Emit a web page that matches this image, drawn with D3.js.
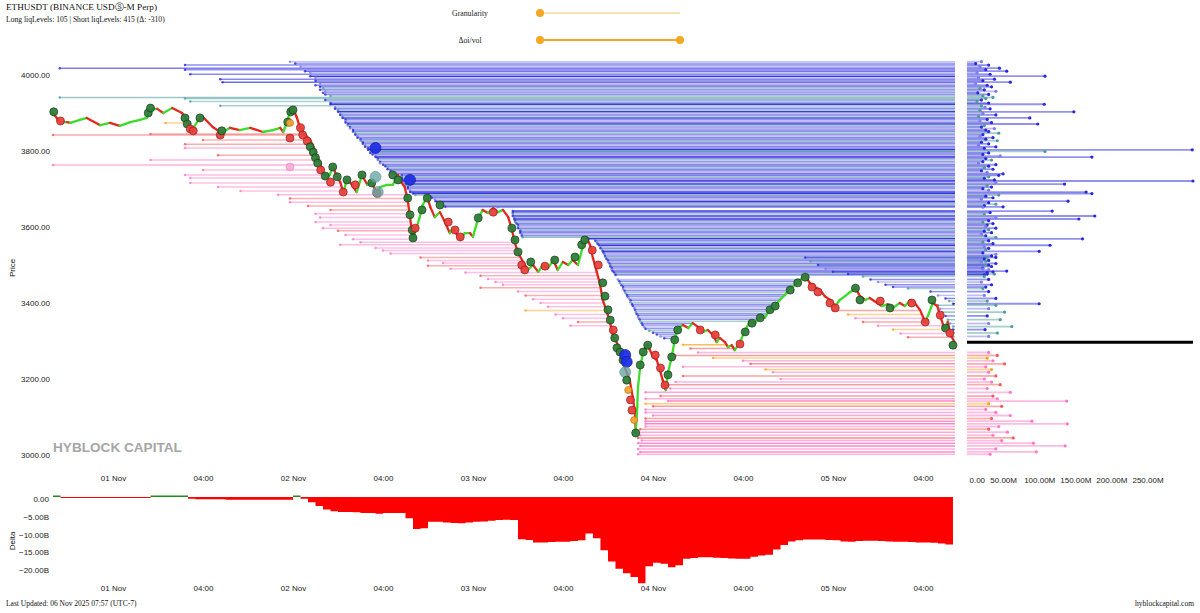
<!DOCTYPE html>
<html>
<head>
<meta charset="utf-8">
<script src="https://cdn.jsdelivr.net/npm/d3@7"></script>
<style>
body { margin: 0; background: #fff; }
svg text { font-family: "Liberation Sans", Arial, sans-serif; }
.serif { font-family: "Liberation Serif", "Times New Roman", serif; }
</style>
</head>
<body>
<svg id="chart" width="1200" height="613"></svg>
<script>
// hours counted from 31 Oct 16:00 UTC
var t0 = Date.UTC(2025, 9, 31, 16, 0);
var HOUR = 3600e3;

// price path: [hour, price]
var pricePath = [
  [0,3900],[0.9,3876],[1.9,3876],[2.3,3874],[3.6,3882],[4.5,3887],[6.3,3868],[7.6,3874],[8.9,3866],[10.3,3876],
  [11.6,3882],[12.5,3887],[12.9,3908],[13.9,3911],[14.7,3900],[15.9,3913],[17.2,3900],[17.6,3889],[18.3,3863],[18.5,3855],
  [19.6,3887],[20,3889],[21.3,3863],[22.5,3847],[23.6,3861],[24.9,3855],[26.3,3861],[28,3850],[29.3,3855],[30.3,3861],
  [30.7,3850],[31.2,3876],[31.6,3903],[32,3911],[32.5,3889],[32.9,3863],[33.3,3850],[34.3,3829],[34.7,3811],[35.2,3784],
  [35.6,3768],[36,3742],[36.5,3732],[36.9,3737],[37.3,3758],[37.9,3732],[38.3,3718],[38.7,3692],[39.2,3724],[39.6,3718],
  [40.5,3692],[41.2,3737],[41.9,3711],[42.5,3716],[43.2,3689],[43.6,3705],[44.5,3711],[45.3,3711],[46,3737],[46.5,3716],
  [46.9,3705],[47.3,3671],[47.6,3626],[47.9,3584],[48,3566],[48.5,3600],[48.9,3626],[49.3,3658],[49.9,3679],[50.3,3653],
  [50.9,3626],[51.6,3639],[52.3,3611],[52.9,3584],[53.3,3597],[54.3,3566],[54.9,3584],[55.6,3584],[56,3574],[56.7,3624],
  [57.3,3645],[58,3637],[58.7,3650],[59.3,3639],[60,3645],[60.7,3626],[61.2,3592],[61.6,3558],[62,3532],[62.7,3508],
  [63.3,3487],[64,3500],[64.7,3482],[65.3,3500],[66,3492],[66.7,3513],[67.3,3487],[68,3508],[68.7,3500],[69.3,3513],
  [70,3500],[70.7,3553],[71.2,3571],[71.6,3553],[72,3518],[72.5,3482],[72.9,3453],[73.3,3408],[73.9,3374],[74.3,3347],
  [74.7,3311],[75.2,3295],[75.6,3271],[76,3242],[76.5,3218],[76.9,3197],[77.3,3153],[77.6,3111],[77.7,3058],[77.9,3126],
  [78,3179],[78.3,3232],[78.7,3271],[79.2,3289],[79.6,3276],[80,3258],[80.5,3250],[80.9,3224],[81.3,3197],[81.7,3171],
  [82,3216],[82.5,3258],[82.9,3303],[83.3,3334],[84,3342],[84.7,3334],[85.3,3347],[86,3337],[86.7,3324],[87.3,3329],
  [88,3316],[88.5,3297],[88.9,3308],[89.6,3297],[90,3284],[90.5,3289],[90.9,3276],[91.6,3297],[92.3,3329],[92.9,3350],
  [93.6,3347],[94.3,3363],[94.9,3361],[95.6,3382],[96.3,3392],[96.9,3408],[97.6,3421],[98.3,3439],[98.9,3447],[99.6,3461],
  [100.3,3471],[100.9,3453],[101.6,3442],[102.3,3434],[102.9,3418],[103.6,3408],[104.3,3392],[104.9,3408],[105.6,3418],[106.3,3429],
  [107,3439],[107.6,3418],[108.3,3408],[108.9,3413],[109.9,3400],[110.5,3392],[111.3,3397],[112,3387],[112.9,3400],[113.6,3392],
  [114.3,3408],[114.9,3400],[115.6,3382],[116.3,3350],[116.7,3368],[117.3,3400],[117.9,3392],[118.3,3366],[118.9,3329],[119.3,3350],
  [119.7,3316],[120.2,3297]
];

// cumulative delta, billions, one value per hour
var deltaB = [0.4,-0.3,-0.3,-0.3,-0.3,-0.3,-0.3,-0.3,-0.3,-0.3,-0.3,-0.3,-0.3,0.4,0.4,0.4,0.4,0.4,-0.5,-0.6,
  -0.6,-0.6,-0.6,-0.8,-0.8,-0.8,-0.8,-0.8,-0.8,-0.8,-0.8,-0.8,0.4,-0.5,-1.5,-2.5,-3.5,-4.0,-4.2,-4.2,
  -4.3,-4.5,-4.5,-4.7,-4.5,-4.5,-4.5,-6.0,-9.0,-8.8,-7.0,-7.0,-7.2,-7.3,-7.4,-7.2,-7.0,-6.9,-6.7,-6.5,
  -6.4,-6.5,-11.9,-12.1,-12.8,-12.8,-12.7,-12.6,-12.6,-12.4,-12.2,-10.3,-11.6,-15.0,-18.2,-20.2,-21.5,-22.5,-24.3,-19.5,
  -18.5,-18.8,-19.8,-19.2,-17.4,-17.2,-17.0,-17.0,-17.1,-17.2,-17.3,-17.4,-17.4,-16.8,-16.5,-16.3,-14.8,-13.5,-12.5,-12.2,
  -12.0,-12.0,-12.0,-12.1,-12.2,-12.5,-12.6,-12.4,-12.3,-12.3,-12.4,-12.5,-12.6,-12.6,-12.7,-12.8,-12.8,-12.9,-13.1,-13.4,-15.1];

var tickHours = [8,20,32,44,56,68,80,92,104,116];
var tickLabels = ["01 Nov","04:00","02 Nov","04:00","03 Nov","04:00","04 Nov","04:00","05 Nov","04:00"];
var priceTicks = [3000,3200,3400,3600,3800,4000];
var deltaTicks = [0,-5,-10,-15,-20];
var sizeTicks = [0,50,100,150,200,250];

// short liq levels: [price, start hour, group, size in M]  groups 0 blue, 1 teal, 2 lavender
var shortLevels = [
  [4035,31.6,2,20],[4030,32.3,0,12],[4026,17.6,0,30],[4022,33,2,18],[4018,0.9,0,45],[4014,17.6,0,26],
  [4010,33.6,0,55],[4006,34.3,2,14],[4002,18.3,0,32],[3997,34.3,0,108],[3993,35,2,16],[3989,22.3,0,38],
  [3985,35,0,22],[3981,22.6,0,60],[3977,35.6,2,12],[3973,35,0,28],[3969,35.6,0,34],[3965,36,1,18],
  [3961,35.6,0,24],[3957,36.3,2,40],[3953,36,0,15],[3949,36.3,0,30],[3945,37,1,22],[3941,0.9,1,36],
  [3938,17.6,1,26],[3934,36.3,0,20],[3930,18.3,1,14],[3926,37,0,30],[3923,37,0,107],[3919,22.3,1,20],
  [3915,37.6,2,25],[3911,37.6,0,32],[3907,38,1,18],[3903,38,0,148],[3899,38.3,2,22],[3895,38.3,0,40],
  [3891,38.6,1,16],[3887,38.6,0,87],[3883,39,0,28],[3879,39,2,18],[3875,39,0,34],[3871,39.3,0,98],
  [3867,39.3,1,24],[3863,39.6,0,20],[3859,39.6,2,38],[3855,40,0,26],[3851,40,0,30],[3847,40.3,1,44],
  [3843,40.3,0,22],[3839,40.6,2,18],[3835,40.6,0,36],[3831,41,0,26],[3827,41,1,42],[3823,41.3,0,20],
  [3819,41.3,0,30],[3815,41.6,2,16],[3811,41.6,0,40],[3807,42,0,24],[3803,42,0,312],[3799,42.3,1,108],
  [3795,42.3,0,30],[3791,42.6,0,22],[3787,43,2,46],[3784,43,0,173],[3780,43.3,0,26],[3776,43.3,1,34],
  [3772,43.6,0,22],[3768,43.6,2,16],[3764,44,0,40],[3760,44.3,0,30],[3756,44.6,1,24],[3752,44.6,0,36],
  [3748,45,0,20],[3744,45,2,28],[3740,45.3,0,50],[3736,46.5,0,44],[3732,46.5,1,30],[3728,46.5,0,24],
  [3724,46.6,0,38],[3721,46.6,0,313],[3717,46.7,2,40],[3713,47,0,135],[3709,47,1,28],[3705,47.3,0,34],
  [3701,47.3,0,22],[3697,47.6,2,30],[3692,47.6,0,165],[3688,48,0,173],[3684,48.3,1,44],[3681,50.3,0,26],
  [3677,50.5,0,36],[3673,50.9,2,20],[3668,51,0,140],[3664,51.3,0,30],[3660,51.6,1,40],[3656,52,0,24],
  [3653,52.3,0,50],[3652,59.3,2,22],[3642,61.3,0,118],[3638,61.3,0,32],[3634,61.3,1,24],[3629,61.3,0,177],
  [3625,61.5,2,40],[3621,61.5,0,155],[3617,61.6,0,30],[3613,61.6,1,22],[3609,61.8,0,36],[3605,62,0,28],
  [3601,62,2,26],[3597,62,0,40],[3593,62.3,1,30],[3589,62.3,0,24],[3585,62.3,0,34],[3581,62.5,2,20],
  [3577,62.5,0,26],[3573,62.6,1,40],[3569,71.4,0,160],
  [3564,72.3,0,30],[3560,72.5,1,22],[3556,72.6,0,36],[3552,72.8,0,115],[3548,73,2,24],[3544,73,0,30],
  [3540,73.2,1,26],[3536,73.3,0,100],[3532,73.4,0,22],[3528,73.5,2,40],[3524,73.6,0,34],[3520,73.7,1,28],
  [3516,73.8,0,24],[3512,74,0,30],[3508,74,2,20],[3504,74.2,0,40],[3500,74.3,1,26],[3496,74.3,0,34],
  [3492,74.5,0,22],[3488,74.5,2,30],[3484,74.6,0,55],[3480,74.8,0,28],[3476,75,1,38],[3474,75,0,24],
  [3462,75.3,2,20],[3457,75.5,0,30],[3452,75.6,1,22],[3447,75.8,0,36],[3442,76,0,26],
  [3437,76,2,20],[3432,76.2,0,30],[3427,76.3,1,24],[3422,76.5,0,34],[3417,76.6,0,20],[3412,76.8,2,26],
  [3407,77,0,30],[3402,77,1,22],[3397,77.2,0,28],[3392,77.3,0,24],[3387,77.5,2,20],[3382,77.6,0,30],
  [3377,77.7,1,26],[3372,77.8,0,22],[3367,78,0,28],[3362,78,2,20],[3357,78.2,0,24],[3352,78.3,1,22],
  [3347,78.5,0,26],[3342,78.6,0,20],[3337,78.8,2,18],[3332,79,0,22],[3327,79.5,1,20],[3322,80,0,24],
  [3317,80.5,0,18],[3312,81,2,20],[3307,81.5,0,22],
  [3520,100.3,0,40],[3510,101,1,26],[3500,102,0,30],[3490,103,2,22],[3482,104,0,36],[3476,106,0,28],
  [3470,108,1,24],[3462,109,0,30],[3455,110,2,20],[3448,111,0,34],[3442,112,0,26],[3438,114,1,22],
  [3430,117,0,30],[3420,118,2,24],[3412,119,0,40],[3405,119.5,1,28],[3398,120,0,100],
  [3394,118,1,40],[3385,118.3,2,30],[3376,118.5,1,52],[3366,119,0,28],[3356,119.3,1,46],[3346,119.6,2,30],
  [3338,120,1,62],[3330,120,0,25],[3321,120,1,42],[3312,120,2,30]
];

// long liq levels: [price, start hour, group, size in M]  groups 3 pink, 4 salmon, 5 orange
var longLevels = [
  [3842,0,4,30],[3874,15,5,20],[3845,13,4,24],[3829,20,4,18],[3818,17.6,4,26],[3808,17.6,3,22],
  [3789,22,4,20],[3776,13,3,30],[3763,0,3,40],[3750,20,3,18],[3737,17.6,3,24],[3729,18.3,3,20],
  [3716,18.3,3,16],[3705,22,3,22],[3695,25,3,18],[3685,30,3,26],[3675,31.6,4,20],[3665,31.6,3,24],
  [3655,34,4,18],[3645,37,4,22],[3635,35,3,20],[3625,35.6,3,16],[3613,35,3,24],[3605,37,3,18],
  [3597,36,3,20],[3590,38,4,22],[3579,39,3,18],[3568,40,3,20],[3560,41,3,16],[3553,38.3,3,24],
  [3545,43,3,18],[3538,44,3,20],[3530,45,3,22],[3520,49,4,18],[3512,50,3,20],[3505,52,3,16],
  [3498,50,4,22],[3490,53,3,18],[3480,55,3,20],[3472,57,4,16],[3463,58,3,22],[3455,59,3,18],
  [3448,60,3,20],[3440,57,4,24],[3430,62,3,18],[3420,63,4,20],[3410,64,3,16],[3400,65,3,22],
  [3390,66,3,18],[3380,63,5,20],[3370,67,3,16],[3360,68,3,18],[3350,70,4,22],[3340,69,3,16],
  [3290,84,5,70],[3280,85,4,40],[3270,86,3,30],[3262,83,4,42],[3255,88,5,28],[3248,92,3,36],
  [3240,93,4,52],[3232,84,3,26],[3225,95,5,34],[3218,96,3,30],[3208,84,4,40],[3200,97,3,24],
  [3192,83,3,34],[3185,82,4,46],[3175,82.3,3,28],[3165,79,3,60],[3155,81,4,36],[3148,79,3,42],
  [3142,82,3,138],[3135,79,5,30],[3128,80,4,48],[3120,79,3,26],[3112,79,3,40],[3104,80,3,60],
  [3096,79,4,34],[3089,79,3,90],[3082,79,3,139],[3075,79,3,44],[3068,78.3,4,30],[3060,78,3,56],
  [3052,78.3,3,36],[3045,78,4,64],[3038,78.5,3,48],[3031,78,3,92],[3024,78.3,3,136],[3016,78,3,40],
  [3008,78.3,3,96],[3002,78,3,32],
  [3380,104,4,30],[3370,106,5,24],[3360,107,3,20],[3350,108,4,26],[3340,110,3,22],[3330,112,5,18],
  [3320,113,3,24],[3310,114,4,20]
];

// liquidation markers on the price: [hour, price, kind]
var markers = [
  [0.1,3903,"g"],[1,3879,"r"],[12.7,3900,"g"],[13,3913,"g"],[17.6,3887,"g"],[17.9,3871,"g"],[18.3,3858,"r"],
  [18.7,3853,"r"],[19.6,3887,"g"],[22.3,3842,"r"],[22.5,3853,"g"],[31.3,3876,"g"],[31.7,3903,"g"],[32,3908,"g"],
  [31.6,3874,"o"],[31.6,3834,"r"],[31.6,3758,"p"],[33,3861,"r"],[33.3,3842,"r"],[33.9,3826,"r"],[34.3,3811,"g"],
  [34.7,3797,"g"],[35,3782,"g"],[35.3,3768,"g"],[35.7,3750,"r"],[36.3,3734,"g"],[37,3718,"r"],[37.3,3758,"g"],
  [37.9,3732,"g"],[38.7,3692,"r"],[39.2,3724,"g"],[40.3,3711,"r"],[41.2,3737,"g"],[42.5,3716,"g"],[43.2,3689,"r"],
  [43,3808,"b"],[43,3732,"t"],[43.3,3692,"t"],[47.6,3724,"b"],[45.3,3737,"g"],[46,3724,"g"],[47.3,3676,"g"],
  [47.6,3632,"g"],[47.9,3592,"g"],[48,3571,"g"],[48.3,3597,"r"],[49.2,3645,"g"],[49.9,3676,"g"],[51.6,3658,"g"],
  [52.7,3613,"r"],[53.6,3592,"r"],[54.3,3574,"r"],[56.7,3624,"g"],[58.7,3639,"r"],[61.2,3597,"g"],[61.6,3566,"g"],
  [62,3534,"g"],[62.5,3500,"r"],[62.9,3487,"r"],[63.7,3508,"g"],[65.6,3497,"r"],[66.9,3513,"g"],[69.6,3521,"g"],
  [70.5,3553,"g"],[70.9,3566,"g"],[71.9,3539,"r"],[72.7,3500,"r"],[73.3,3453,"g"],[73.6,3418,"g"],[74,3382,"g"],
  [74.3,3355,"g"],[74.7,3329,"r"],[74.9,3308,"g"],[75.2,3282,"g"],[75.6,3271,"g"],[76,3250,"g"],[76.3,3263,"b"],
  [76.5,3245,"b"],[76.3,3218,"t"],[76.5,3197,"g"],[76.7,3171,"o"],[77,3145,"r"],[77.2,3118,"r"],[77.5,3092,"o"],
  [77.7,3058,"g"],[78.3,3237,"g"],[78.7,3271,"g"],[79.3,3289,"g"],[80.3,3263,"r"],[81,3229,"r"],[81.6,3184,"r"],
  [82,3211,"g"],[82.5,3258,"g"],[82.9,3303,"g"],[83.3,3329,"g"],[86.3,3329,"r"],[88.3,3316,"r"],[91.6,3292,"r"],
  [92.3,3324,"g"],[93.2,3347,"g"],[94.3,3361,"g"],[95.6,3382,"g"],[96.3,3392,"g"],[98.3,3434,"g"],[99.3,3453,"g"],
  [100.3,3468,"g"],[101.2,3442,"r"],[102,3429,"r"],[103.6,3400,"r"],[104.3,3387,"r"],[107,3439,"g"],[107.6,3408,"g"],
  [110.3,3405,"r"],[111.6,3387,"g"],[114.5,3400,"r"],[116.3,3350,"r"],[117.2,3408,"g"],[118.3,3368,"r"],[119,3334,"g"],
  [119.6,3321,"r"],[120,3289,"g"]
];

var svg = d3.select("#chart");

function tAt(h) { return new Date(t0 + h * HOUR); }

var x = d3.scaleUtc().domain([t0, t0 + 120.27 * HOUR]).range([53, 955]);
var y = d3.scaleLinear().domain([3000, 4000]).range([455, 75]);
var yd = d3.scaleLinear().domain([-25, 0]).range([585.75, 497]);
var xs = d3.scaleLinear().domain([0, 250]).range([967, 1147.5]);
// bigger clusters draw darker
var alpha = d3.scaleLinear().domain([10, 110]).range([0.42, 0.92]).clamp(true);

var groupColor = ["#2828de", "#4f9b9b", "#7d7deb", "#ff78c6", "#f45a5a", "#ffa31a"];
var markerStyle = {
  g: {fill: "#2f7f3a", stroke: "#1c3f1c", r: 4},
  r: {fill: "#e8413c", stroke: "#9c2020", r: 4},
  o: {fill: "#f7a531", stroke: "#c47414", r: 3.5},
  b: {fill: "#1f2fe6", stroke: "#1020a0", r: 5.5},
  t: {fill: "#6aa7a8", stroke: "#5a8f90", r: 5.5},
  p: {fill: "#f7a0d2", stroke: "#e586bd", r: 4}
};

// hour at which price runs through the level after it was opened, null if still open
function crossHour(level, start, isShort) {
  for (var j = 1; j < pricePath.length; j++) {
    var a = pricePath[j - 1], b = pricePath[j];
    if (b[0] <= start) continue;
    var hit = isShort ? b[1] >= level : b[1] <= level;
    if (hit) {
      var f = a[1] === b[1] ? 1 : (level - a[1]) / (b[1] - a[1]);
      f = Math.max(0, Math.min(1, f));
      return Math.max(start, a[0] + f * (b[0] - a[0]));
    }
  }
  return null;
}

var levels = shortLevels.map(d => ({price: d[0], start: d[1], group: d[2], size: d[3], isShort: true}))
  .concat(longLevels.map(d => ({price: d[0], start: d[1], group: d[2], size: d[3], isShort: false})));
levels.forEach(d => {
  d.end = crossHour(d.price, d.start, d.isShort);
  d.active = d.end === null;
});

// header
svg.append("text").attr("class", "serif").attr("x", 6).attr("y", 10).attr("font-size", 9.2)
  .attr("fill", "#111").text("ETHUSDT (BINANCE USDⓈ-M Perp)");
svg.append("text").attr("class", "serif").attr("x", 6).attr("y", 22).attr("font-size", 7.6)
  .attr("fill", "#111").text("Long liqLevels: 105 | Short liqLevels: 415 (Δ: -310)");

svg.append("text").attr("class", "serif").attr("x", 470).attr("y", 16).attr("text-anchor", "middle")
  .attr("font-size", 7.8).attr("fill", "#222").text("Granularity");
svg.append("line").attr("x1", 540).attr("x2", 680).attr("y1", 13).attr("y2", 13)
  .attr("stroke", "#f8d9a0").attr("stroke-width", 1.5);
svg.append("circle").attr("cx", 540).attr("cy", 13).attr("r", 4).attr("fill", "#f5a623");

svg.append("text").attr("class", "serif").attr("x", 470).attr("y", 43).attr("text-anchor", "middle")
  .attr("font-size", 7.8).attr("fill", "#222").text("Δoi/vol");
svg.append("line").attr("x1", 540).attr("x2", 680).attr("y1", 40).attr("y2", 40)
  .attr("stroke", "#f5a623").attr("stroke-width", 2);
svg.selectAll(".knob").data([540, 680]).join("circle").attr("class", "knob")
  .attr("cx", d => d).attr("cy", 40).attr("r", 4).attr("fill", "#f5a623");

// liq level lines
var gLevels = svg.append("g");
gLevels.selectAll("line").data(levels).join("line")
  .attr("x1", d => x(tAt(d.start)))
  .attr("x2", d => d.active ? x.range()[1] : x(tAt(d.end)))
  .attr("y1", d => y(d.price)).attr("y2", d => y(d.price))
  .attr("stroke", d => groupColor[d.group])
  .attr("stroke-opacity", d => alpha(d.size))
  .attr("stroke-width", 1.5);
gLevels.selectAll("circle").data(levels).join("circle")
  .attr("cx", d => x(tAt(d.start))).attr("cy", d => y(d.price))
  .attr("r", 1.25).attr("fill", d => groupColor[d.group]).attr("opacity", 0.8);

svg.append("text").attr("x", 53).attr("y", 452).attr("font-size", 13.6).attr("font-weight", "bold")
  .attr("fill", "#a6a6a6").text("HYBLOCK CAPITAL");

// price path, green when rising, red when falling
svg.append("g").selectAll("line").data(d3.pairs(pricePath)).join("line")
  .attr("x1", d => x(tAt(d[0][0]))).attr("y1", d => y(d[0][1]))
  .attr("x2", d => x(tAt(d[1][0]))).attr("y2", d => y(d[1][1]))
  .attr("stroke", d => d[1][1] >= d[0][1] ? "#3ddc2a" : "#e3281e")
  .attr("stroke-width", 2.3).attr("stroke-linecap", "round");

svg.append("g").selectAll("circle").data(markers).join("circle")
  .attr("cx", d => x(tAt(d[0]))).attr("cy", d => y(d[1]))
  .attr("r", d => markerStyle[d[2]].r)
  .attr("fill", d => markerStyle[d[2]].fill)
  .attr("stroke", d => markerStyle[d[2]].stroke)
  .attr("stroke-width", 0.8)
  .attr("opacity", d => (d[2] === "t" || d[2] === "p") ? 0.8 : 0.95);

// axes
function styleAxis(g) {
  g.select(".domain").remove();
  g.attr("font-family", "Liberation Sans, Arial, sans-serif").attr("font-size", 8);
  g.selectAll("text").attr("fill", "#222");
}
svg.append("g").attr("transform", "translate(52,0)")
  .call(d3.axisLeft(y).tickValues(priceTicks).tickSize(0).tickPadding(2).tickFormat(d3.format(".2f")))
  .call(styleAxis);

var timeAxis = d3.axisBottom(x).tickValues(tickHours.map(tAt)).tickSize(0).tickPadding(3)
  .tickFormat((d, i) => tickLabels[i]);
svg.append("g").attr("transform", "translate(0,472.5)").call(timeAxis).call(styleAxis);
svg.append("g").attr("transform", "translate(0,582.5)").call(timeAxis).call(styleAxis);

svg.append("text").attr("transform", "translate(15,268) rotate(-90)").attr("text-anchor", "middle")
  .attr("font-size", 8).attr("fill", "#111").text("Price");
svg.append("text").attr("transform", "translate(15,541) rotate(-90)").attr("text-anchor", "middle")
  .attr("font-size", 8).attr("fill", "#111").text("Delta");

// right panel: open level sizes
var active = levels.filter(d => d.active);
var gRight = svg.append("g");
gRight.selectAll("line").data(active).join("line")
  .attr("x1", xs(0)).attr("x2", d => xs(d.size))
  .attr("y1", d => y(d.price)).attr("y2", d => y(d.price))
  .attr("stroke", d => groupColor[d.group])
  .attr("stroke-opacity", 0.5).attr("stroke-width", 1.8);
gRight.selectAll("circle").data(active).join("circle")
  .attr("cx", d => xs(d.size)).attr("cy", d => y(d.price))
  .attr("r", 1.6).attr("fill", d => groupColor[d.group]);

var lastPrice = pricePath[pricePath.length - 1][1];
svg.append("line").attr("x1", xs(0)).attr("x2", 1193)
  .attr("y1", y(lastPrice)).attr("y2", y(lastPrice))
  .attr("stroke", "#000").attr("stroke-width", 3);

var sizeAxis = svg.append("g").attr("transform", "translate(0,474.5)")
  .call(d3.axisBottom(xs).tickValues(sizeTicks).tickSize(0).tickPadding(3)
    .tickFormat(d => d === 0 ? "0.00" : d3.format(".2f")(d) + "M"))
  .call(styleAxis);
sizeAxis.selectAll(".tick text").filter(d => d === 0).attr("text-anchor", "start").attr("x", 2);

// delta panel
var redArea = d3.area().curve(d3.curveStepAfter)
  .x((d, i) => x(tAt(i))).y0(yd(0)).y1(d => yd(Math.min(d, 0)));
var greenArea = d3.area().curve(d3.curveStepAfter)
  .x((d, i) => x(tAt(i))).y0(yd(0)).y1(d => yd(Math.max(d, 0)));
svg.append("path").datum(deltaB).attr("d", redArea).attr("fill", "#ff0000");
svg.append("path").datum(deltaB).attr("d", greenArea).attr("fill", "#1f8a1f");

svg.append("g").attr("transform", "translate(49,2)")
  .call(d3.axisLeft(yd).tickValues(deltaTicks).tickSize(0).tickPadding(0)
    .tickFormat(d => d === 0 ? "0.00" : d3.format(".2f")(d) + "B"))
  .call(styleAxis);

// footer
svg.append("text").attr("class", "serif").attr("x", 6).attr("y", 606).attr("font-size", 7.5)
  .attr("fill", "#111").text("Last Updated: 06 Nov 2025 07:57 (UTC-7)");
svg.append("text").attr("class", "serif").attr("x", 1194).attr("y", 606).attr("text-anchor", "end")
  .attr("font-size", 7.5).attr("fill", "#111").text("hyblockcapital.com");
</script>
</body>
</html>
